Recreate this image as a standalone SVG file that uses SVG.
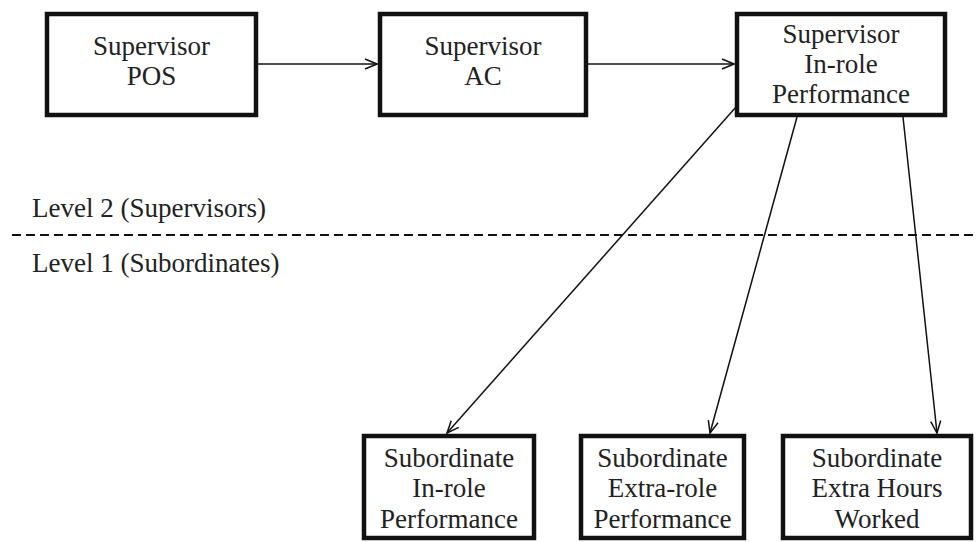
<svg xmlns="http://www.w3.org/2000/svg" width="977" height="542" viewBox="0 0 977 542">
<defs>
<style>
.box{fill:#fff;stroke:#111;stroke-width:4.5}
.t{font-family:'Liberation Serif',Tinos,'Times New Roman',Times,serif;font-size:27px;fill:#222;text-anchor:middle}
.l{font-family:'Liberation Serif',Tinos,'Times New Roman',Times,serif;font-size:27px;fill:#222}
.c{stroke:#111;stroke-width:1.5;fill:none}
</style>
<marker id="ah" viewBox="0 0 14 12" refX="13" refY="6" markerWidth="14" markerHeight="12" markerUnits="userSpaceOnUse" orient="auto">
<path d="M1,1 L13,6 L1,11" fill="none" stroke="#111" stroke-width="1.5"/>
</marker>
</defs>
<rect width="977" height="542" fill="#fff"/>
<g id="levels">
<text class="l" x="32" y="217">Level 2 (Supervisors)</text>
<line x1="12" y1="235" x2="977" y2="235" stroke="#111" stroke-width="2" stroke-dasharray="9,5"/>
<text class="l" x="32" y="272">Level 1 (Subordinates)</text>
</g>
<g id="connectors">
<line class="c" x1="258" y1="64" x2="377" y2="64" marker-end="url(#ah)"/>
<line class="c" x1="588" y1="64" x2="734" y2="64" marker-end="url(#ah)"/>
<line class="c" x1="736" y1="107" x2="447" y2="433" marker-end="url(#ah)"/>
<line class="c" x1="797" y1="117" x2="710" y2="433" marker-end="url(#ah)"/>
<line class="c" x1="903" y1="117" x2="937" y2="433" marker-end="url(#ah)"/>
</g>
<g id="sup-pos">
<rect class="box" x="47" y="14" width="209" height="101"/>
<text class="t" x="151.5" y="55">Supervisor</text>
<text class="t" x="151.5" y="85">POS</text>
</g>
<g id="sup-ac">
<rect class="box" x="380" y="14" width="206" height="101"/>
<text class="t" x="483" y="55">Supervisor</text>
<text class="t" x="483" y="85">AC</text>
</g>
<g id="sup-inrole">
<rect class="box" x="737" y="14" width="208" height="101"/>
<text class="t" x="841" y="43">Supervisor</text>
<text class="t" x="841" y="73">In-role</text>
<text class="t" x="841" y="103">Performance</text>
</g>
<g id="sub-inrole">
<rect class="box" x="364" y="436" width="170" height="102"/>
<text class="t" x="449" y="467">Subordinate</text>
<text class="t" x="449" y="497">In-role</text>
<text class="t" x="449" y="528">Performance</text>
</g>
<g id="sub-extrarole">
<rect class="box" x="581" y="436" width="163" height="102"/>
<text class="t" x="662.5" y="467">Subordinate</text>
<text class="t" x="662.5" y="497">Extra-role</text>
<text class="t" x="662.5" y="528">Performance</text>
</g>
<g id="sub-hours">
<rect class="box" x="783" y="436" width="188" height="102"/>
<text class="t" x="877" y="467">Subordinate</text>
<text class="t" x="877" y="497">Extra Hours</text>
<text class="t" x="877" y="528">Worked</text>
</g>
</svg>
